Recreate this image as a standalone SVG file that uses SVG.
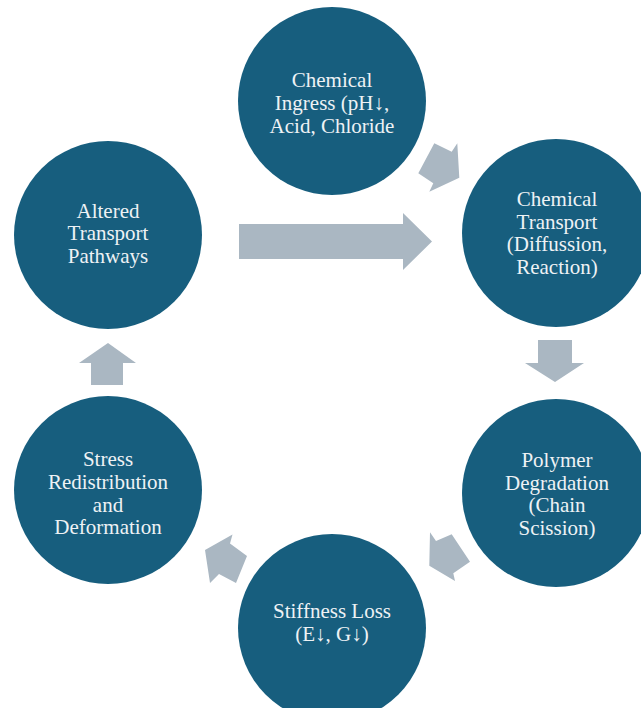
<svg xmlns="http://www.w3.org/2000/svg" width="641" height="708" viewBox="0 0 641 708">
  <style>
    .node { fill: #175e7e; }
    .lbl { font-family: 'Liberation Serif', 'Times New Roman', Times, serif; font-size: 21px; fill: #eef2f5; text-anchor: middle; }
    .arrow { fill: #aab7c2; }
  </style>
  <rect width="641" height="708" fill="#ffffff"/>

  <g id="connectors">
    <!-- ingress to transport -->
    <polygon class="arrow" points="434.3,143.3 451.7,151.7 457.3,143.3 459.3,177.7 429.3,191.7 433.3,183.3 418.3,173.3"/>
    <!-- altered pathways feeding back into transport -->
    <polygon class="arrow" points="239,224 403,224 403,213 432,241.5 403,270 403,259 239,259"/>
    <!-- transport to degradation -->
    <polygon class="arrow" points="538,340 572,340 572,363 584,363 555,382 525,363 538,363"/>
    <!-- degradation to stiffness loss -->
    <polygon class="arrow" points="451.7,534.3 470,561.7 453.3,573.3 455,581 429.3,565.7 430,532.3 436,541"/>
    <!-- stiffness loss to stress redistribution -->
    <polygon class="arrow" points="247,556 236,583 219,574 210,583 205,550 232.5,534.5 230,543.5"/>
    <!-- stress redistribution to altered pathways -->
    <polygon class="arrow" points="91,385 123,385 123,363 136,363 108,343 79,363 91,363"/>
  </g>

  <g id="node-ingress">
    <circle class="node" cx="332" cy="101" r="94"/>
    <text class="lbl" x="332" y="87">Chemical</text>
    <text class="lbl" x="332" y="110">Ingress (pH↓,</text>
    <text class="lbl" x="332" y="133">Acid, Chloride</text>
  </g>

  <g id="node-transport">
    <circle class="node" cx="556" cy="233" r="94"/>
    <text class="lbl" x="557" y="206">Chemical</text>
    <text class="lbl" x="557" y="229">Transport</text>
    <text class="lbl" x="557" y="251">(Diffussion,</text>
    <text class="lbl" x="557" y="274">Reaction)</text>
  </g>

  <g id="node-degradation">
    <circle class="node" cx="556" cy="493" r="94"/>
    <text class="lbl" x="557" y="467">Polymer</text>
    <text class="lbl" x="557" y="490">Degradation</text>
    <text class="lbl" x="557" y="512">(Chain</text>
    <text class="lbl" x="557" y="535">Scission)</text>
  </g>

  <g id="node-stiffness">
    <circle class="node" cx="332" cy="628" r="94"/>
    <text class="lbl" x="332" y="618">Stiffness Loss</text>
    <text class="lbl" x="332" y="641">(E↓, G↓)</text>
  </g>

  <g id="node-stress">
    <circle class="node" cx="108" cy="490" r="94"/>
    <text class="lbl" x="108" y="466">Stress</text>
    <text class="lbl" x="108" y="489">Redistribution</text>
    <text class="lbl" x="108" y="512">and</text>
    <text class="lbl" x="108" y="534">Deformation</text>
  </g>

  <g id="node-altered">
    <circle class="node" cx="108" cy="235" r="94"/>
    <text class="lbl" x="108" y="218">Altered</text>
    <text class="lbl" x="108" y="240">Transport</text>
    <text class="lbl" x="108" y="263">Pathways</text>
  </g>
</svg>
